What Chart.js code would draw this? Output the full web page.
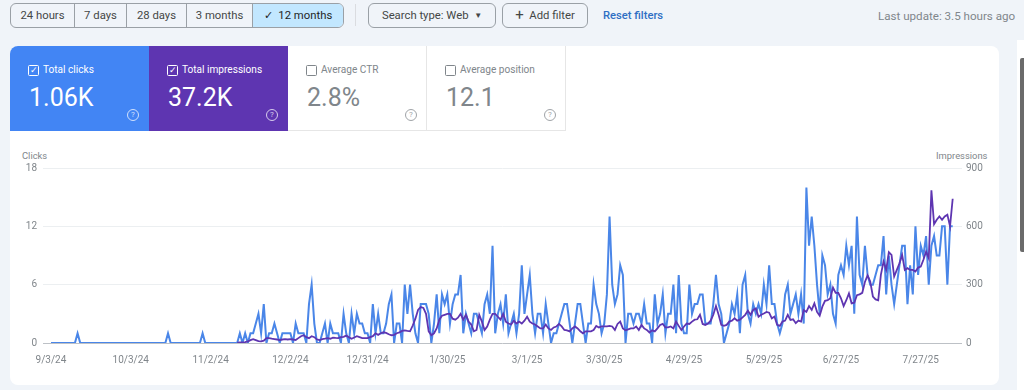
<!DOCTYPE html>
<html>
<head>
<meta charset="utf-8">
<script src="https://cdn.jsdelivr.net/npm/chart.js@4"></script>
<style>
html, body { margin: 0; padding: 0; width: 1024px; height: 390px; overflow: hidden; background: #f0f4f9; font-family: Roboto, sans-serif; color: #5f6368; }
.abs { position: absolute; white-space: nowrap; }
#range { left: 10px; top: 3px; height: 23px; width: 332px; display: flex; border: 1px solid #9aa0a6; border-radius: 6px; overflow: hidden; font-size: 11.3px; color: #444746; }
#range div { line-height: 23px; text-align: center; border-right: 1px solid #9aa0a6; box-sizing: border-box; }
#range div:last-child { border-right: 0; background: #c2e7ff; color: #1f1f1f; }
.btn { top: 3px; height: 23px; line-height: 23px; border: 1px solid #9aa0a6; border-radius: 6px; font-size: 11.3px; color: #444746; box-sizing: content-box; text-align: center; }
#card { left: 10px; top: 46px; width: 989px; height: 339px; background: #fff; border-radius: 8px; }
.tile { top: 46px; width: 139px; height: 85px; box-sizing: border-box; border-bottom: 1px solid #e6e6e6; color: #80868b; }
.tile .lab { position: absolute; left: 33px; top: 18px; font-size: 10.1px; }
.tile .val { position: absolute; left: 19px; top: 37px; font-size: 25px; line-height: 30px; }
.tile .box { position: absolute; left: 18px; top: 19px; width: 9px; height: 9px; border: 1px solid currentColor; border-radius: 1.5px; font-size: 9px; line-height: 9px; text-align: center; }
.tile .help { position: absolute; left: 117px; top: 63px; width: 10px; height: 10px; border: 1px solid currentColor; border-radius: 50%; font-size: 8px; line-height: 10px; text-align: center; opacity: .75; }
.on { color: #fff; border-bottom: 0; }
.title { font-size: 9.4px; color: #80868b; top: 150px; }
canvas { position: absolute; left: 0; top: 151px; }
</style>
</head>
<body>
<div class="abs" id="range">
  <div style="width:64px">24 hours</div>
  <div style="width:52px">7 days</div>
  <div style="width:60px">28 days</div>
  <div style="width:66px">3 months</div>
  <div style="width:90px">✓&nbsp; 12 months</div>
</div>
<div class="abs" style="left:355px;top:4px;width:1px;height:22px;background:#dadce0"></div>
<div class="abs btn" style="left:368px;width:126px">Search type: Web &nbsp;<span style="font-size:8px;vertical-align:1px">▼</span></div>
<div class="abs btn" style="left:502px;width:84px"><span style="font-size:15px;vertical-align:-1px">+</span>&nbsp; Add filter</div>
<div class="abs" style="left:603px;top:9px;font-size:11.2px;font-weight:500;color:#2f6fc4">Reset filters</div>
<div class="abs" style="left:878px;top:9px;font-size:11.6px;color:#80868b">Last update: 3.5 hours ago</div>
<div class="abs" style="left:1017px;top:40px;width:7px;height:350px;background:#fff"></div>
<div class="abs" style="left:1020px;top:58px;width:4px;height:194px;background:#6b6b6b;border-radius:2px 0 0 2px"></div>

<div class="abs" id="card"></div>
<div class="abs tile on" style="left:10px;background:#4285f4;border-radius:8px 0 0 0"><span class="box">✓</span><span class="lab">Total clicks</span><span class="val">1.06K</span><span class="help">?</span></div>
<div class="abs tile on" style="left:149px;background:#5e35b1"><span class="box">✓</span><span class="lab">Total impressions</span><span class="val">37.2K</span><span class="help">?</span></div>
<div class="abs tile" style="left:288px;border-right:1px solid #e6e6e6"><span class="box"></span><span class="lab">Average CTR</span><span class="val">2.8%</span><span class="help">?</span></div>
<div class="abs tile" style="left:427px;border-right:1px solid #e6e6e6"><span class="box"></span><span class="lab">Average position</span><span class="val">12.1</span><span class="help">?</span></div>

<div class="abs title" style="left:22px">Clicks</div>
<div class="abs title" style="left:936px">Impressions</div>
<canvas id="chart" width="1024" height="225"></canvas>

<script>
const clicks = [
	0,0,0,0,0,0,0,0,0,0,
	1,0,0,0,0,0,0,0,0,0,
	0,0,0,0,0,0,0,0,0,0,
	0,0,0,0,0,0,0,0,0,0,
	0,0,0,0,1,0,0,0,0,0,
	0,0,0,0,0,0,0,1,0,0,
	0,0,0,0,0,0,0,0,0,0,
	0,1,0,1,0,1,1,2,3,1,
	4,0,1,1,2,1,0,1,1,1,
	1,0,2,1,1,1,0,4,6,2,
	0,0,1,2,0,2,1,1,1,0,
	3,1,0,3,1,3,2,2,1,1,
	0,4,1,3,1,1,2,4,5,0,
	2,2,0,6,3,6,3,1,0,4,
	4,4,3,0,2,5,1,5,4,5,
	2,4,5,5,7,1,3,2,1,3,
	3,2,1,4,5,3,10,1,3,4,
	2,5,1,2,3,1,3,8,3,5,
	7,3,1,3,3,1,4,2,0,1,
	1,2,3,4,4,2,0,2,4,4,
	2,0,2,2,6,4,3,1,2,5,
	13,6,4,5,8,7,0,3,3,2,
	3,3,2,4,2,2,0,5,2,3,
	5,1,3,3,6,1,7,2,1,1,
	6,3,4,4,5,5,2,2,2,4,
	7,4,3,0,1,2,4,3,5,1,
	6,7,3,2,4,3,4,3,6,4,
	8,4,4,2,1,2,5,6,3,4,
	5,3,5,2,16,10,13,10,6,3,
	9,8,5,6,3,2,7,8,7,10,
	8,10,3,13,7,6,10,7,6,6,
	7,8,8,11,5,9,6,4,6,8,
	10,10,4,8,5,12,7,10,9,11,
	6,10,11,9,9,12,12,6,12,12
];
// impressions line only shows from mid november, before that it sits behind clicks
const impressions = [
	null,null,null,null,null,null,null,null,null,null,
	null,null,null,null,null,null,null,null,null,null,
	null,null,null,null,null,null,null,null,null,null,
	null,null,null,null,null,null,null,null,null,null,
	null,null,null,null,null,null,null,null,null,null,
	null,null,null,null,null,null,null,null,null,null,
	null,null,null,null,null,null,null,null,null,null,
	2,3,3,5,8,15,20,15,10,8,
	12,25,25,22,20,18,15,18,20,18,
	20,18,15,25,35,40,30,25,35,30,
	18,15,20,22,25,22,28,26,25,30,
	32,38,30,22,28,35,30,25,25,25,
	30,35,50,42,50,55,52,45,40,42,
	50,55,62,65,62,60,90,125,170,185,
	180,150,60,40,50,75,120,140,145,150,
	150,125,120,130,150,120,145,110,95,60,
	67,145,110,67,85,120,150,150,135,120,
	150,110,100,95,115,100,110,100,115,135,
	110,100,95,85,75,75,95,75,67,80,
	85,98,85,67,65,60,75,85,75,60,
	50,60,60,60,67,88,80,85,85,85,
	88,85,67,98,110,75,65,70,75,75,
	85,67,93,75,67,54,65,60,75,93,
	98,80,80,85,75,110,88,67,85,100,
	98,110,120,122,145,98,93,100,115,145,
	190,145,93,88,93,110,115,127,115,120,
	132,145,166,145,170,178,135,145,152,160,
	156,127,136,93,88,110,115,145,119,122,
	102,115,110,170,160,190,170,204,160,140,
	187,217,220,230,285,258,258,230,190,220,
	255,204,207,246,250,258,314,348,316,239,
	224,220,350,419,376,467,453,342,376,410,
	453,376,385,376,376,368,388,393,428,470,
	436,785,611,634,651,634,651,660,600,742
];
const tickDays = [0, 30, 60, 90, 119, 149, 179, 208, 238, 268, 297, 327];
const tickLabels = ["9/3/24", "10/3/24", "11/2/24", "12/2/24", "12/31/24", "1/30/25", "3/1/25", "3/30/25", "4/29/25", "5/29/25", "6/27/25", "7/27/25"];
const clickTicks = [0, 6, 12, 18];
const impressionTicks = [0, 300, 600, 900];

const toPoints = (list) => list.map((v, i) => ({ x: i, y: v }));
const tickFont = { family: "Roboto", size: 10 };

new Chart(document.getElementById("chart"), {
	type: "line",
	data: {
		datasets: [
			{ label: "Impressions", data: toPoints(impressions), yAxisID: "right", borderColor: "#5e35b1", borderWidth: 1.8, pointRadius: 0, tension: 0 },
			{ label: "Clicks", data: toPoints(clicks), yAxisID: "left", borderColor: "#4a86e8", borderWidth: 2, pointRadius: 0, tension: 0 },
		],
	},
	options: {
		responsive: false,
		animation: false,
		layout: { padding: { top: 17 } },
		plugins: { legend: { display: false }, tooltip: { enabled: false } },
		scales: {
			x: {
				type: "linear",
				min: -3,
				max: 342.5,
				grid: { display: false },
				border: { display: false },
				afterBuildTicks: (axis) => {
					axis.ticks = tickDays.map((d) => ({ value: d }));
				},
				afterFit: (axis) => {
					axis.height = 33;
				},
				ticks: {
					autoSkip: false,
					maxRotation: 0,
					padding: 3,
					color: "#80868b",
					font: tickFont,
					callback: (value) => tickLabels[tickDays.indexOf(value)],
				},
			},
			left: {
				position: "left",
				min: 0,
				max: 18,
				afterBuildTicks: (axis) => {
					axis.ticks = clickTicks.map((v) => ({ value: v }));
				},
				afterFit: (axis) => {
					axis.width = 43;
				},
				grid: {
					drawTicks: false,
					color: (ctx) => (ctx.tick.value === 0 ? "#bdc1c6" : "#eceff1"),
				},
				border: { display: false },
				ticks: { padding: 6, color: "#80868b", font: tickFont },
			},
			right: {
				position: "right",
				min: 0,
				max: 900,
				afterBuildTicks: (axis) => {
					axis.ticks = impressionTicks.map((v) => ({ value: v }));
				},
				afterFit: (axis) => {
					axis.width = 62;
				},
				grid: { display: false, drawTicks: false },
				border: { display: false },
				ticks: { padding: 4, color: "#80868b", font: tickFont },
			},
		},
	},
});
</script>
</body>
</html>
